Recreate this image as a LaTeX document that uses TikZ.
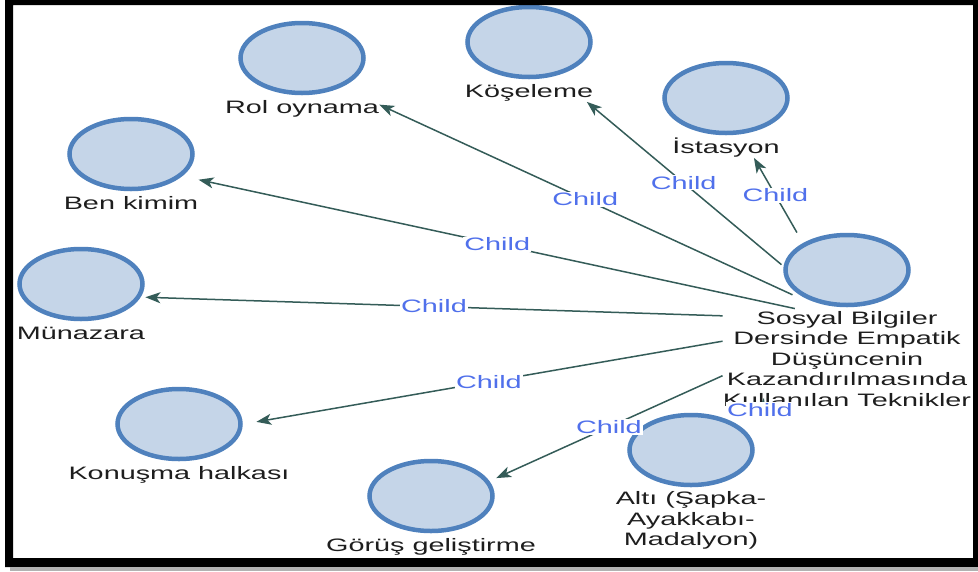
\documentclass[tikz,border=0pt]{standalone}
\usepackage{fontspec}
\setmainfont{Liberation Sans}[FakeStretch=1.6]
\usepackage{xcolor}
\usetikzlibrary{positioning,
	fit,
	shapes,
	arrows.meta}
\definecolor{nodeline}{RGB}{79,129,189}
\definecolor{nodefill}{RGB}{197,213,232}
\definecolor{linkcol}{RGB}{52,92,88}
\definecolor{childcol}{RGB}{80,112,235}
\definecolor{textcol}{RGB}{30,30,30}
\tikzstyle{cn}=[ellipse, draw=nodeline, fill=nodefill, line width=4.5pt,
		minimum width=123pt, minimum height=70pt, inner sep=0]
\tikzstyle{lb}=[inner sep=0, text=textcol, text height=14pt, text depth=4pt]
\tikzstyle{lbm}=[inner sep=0, text=textcol, align=center]
\tikzstyle{grp}=[inner sep=0]
\tikzstyle{ln}=[draw=linkcol, line width=1.5pt, -{Stealth[length=15pt,width=11pt,inset=4pt]}]
\tikzstyle{ch}=[fill=white, inner sep=1pt, text=childcol]

\begin{document}
\begin{tikzpicture}[x=1pt, y=-1pt, every node/.style={font=\fontsize{18pt}{20.5pt}\selectfont}]
                \useasboundingbox (0,0) rectangle (978,571);
                \node[cn] (root) at (847,270) {};
                \node[lbm, below=4pt of root] (rootl) {Sosyal Bilgiler\\Dersinde Empatik\\Düşüncenin\\Kazandırılmasında\\Kullanılan Teknikler};
                \node[cn] (kose) at (529,42) {};
                \node[lb, below=4pt of kose] (kosel) {Köşeleme};
                \node[cn] (rol) at (302,58) {};
                \node[lb, below=4pt of rol] (roll) {Rol oynama};
                \node[cn] (ist) at (726,98) {};
                \node[lb, below=4pt of ist] (istl) {İstasyon};
                \node[cn] (ben) at (131,154) {};
                \node[lb, below=4pt of ben] (benl) {Ben kimim};
                \node[cn] (mun) at (81,284) {};
                \node[lb, below=4pt of mun] (munl) {Münazara};
                \node[cn] (kon) at (179,424) {};
                \node[lb, below=4pt of kon] (konl) {Konuşma halkası};
                \node[cn] (gor) at (431,496) {};
                \node[lb, below=4pt of gor] (gorl) {Görüş geliştirme};
                \node[cn] (alti) at (691,450) {};
                \node[lbm, below=4pt of alti] (altil) {Altı (Şapka-\\Ayakkabı-\\Madalyon)};

                \node[grp, fit=(root)(rootl)] (Root) {};
                \node[grp, fit=(kose)(kosel)] (Kose) {};
                \node[grp, fit=(rol)(roll)] (Rol) {};
                \node[grp, fit=(ist)(istl)] (Ist) {};
                \node[grp, fit=(ben)(benl)] (Ben) {};
                \node[grp, fit=(mun)(munl)] (Mun) {};
                \node[grp, fit=(kon)(konl)] (Kon) {};
                \node[grp, fit=(gor)(gorl)] (Gor) {};
                \node[grp, fit=(alti)(altil)] (Alti) {};

                \draw[ln, shorten <=-50pt] (Root) -- node[ch, pos=.38] {Child} (Kose);
                \draw[ln] (Root) -- node[ch] {Child} (Ist);
                \draw[ln, shorten <=-77pt] (Root) -- node[ch, pos=.4] {Child} (Rol);
                \draw[ln, shorten <=-74pt] (Root) -- node[ch, pos=.43] {Child} (Ben);
                \draw[ln] (Root) -- node[ch] {Child} (Mun);
                \draw[ln, shorten >=-34pt] (Root) -- node[ch, pos=.54] {Child} (Kon);
                \draw[ln, shorten >=-44pt] (Root) -- node[ch, pos=.61] {Child} (Gor);
                \draw[ln] (Root) -- node[ch] {Child} (Alti);

                \fill[black, even odd rule] (5,0) rectangle (978,567) (13,5) rectangle (973,558);
                \fill[gray!60] (10,567) rectangle (978,571);
            \end{tikzpicture}
\end{document}
